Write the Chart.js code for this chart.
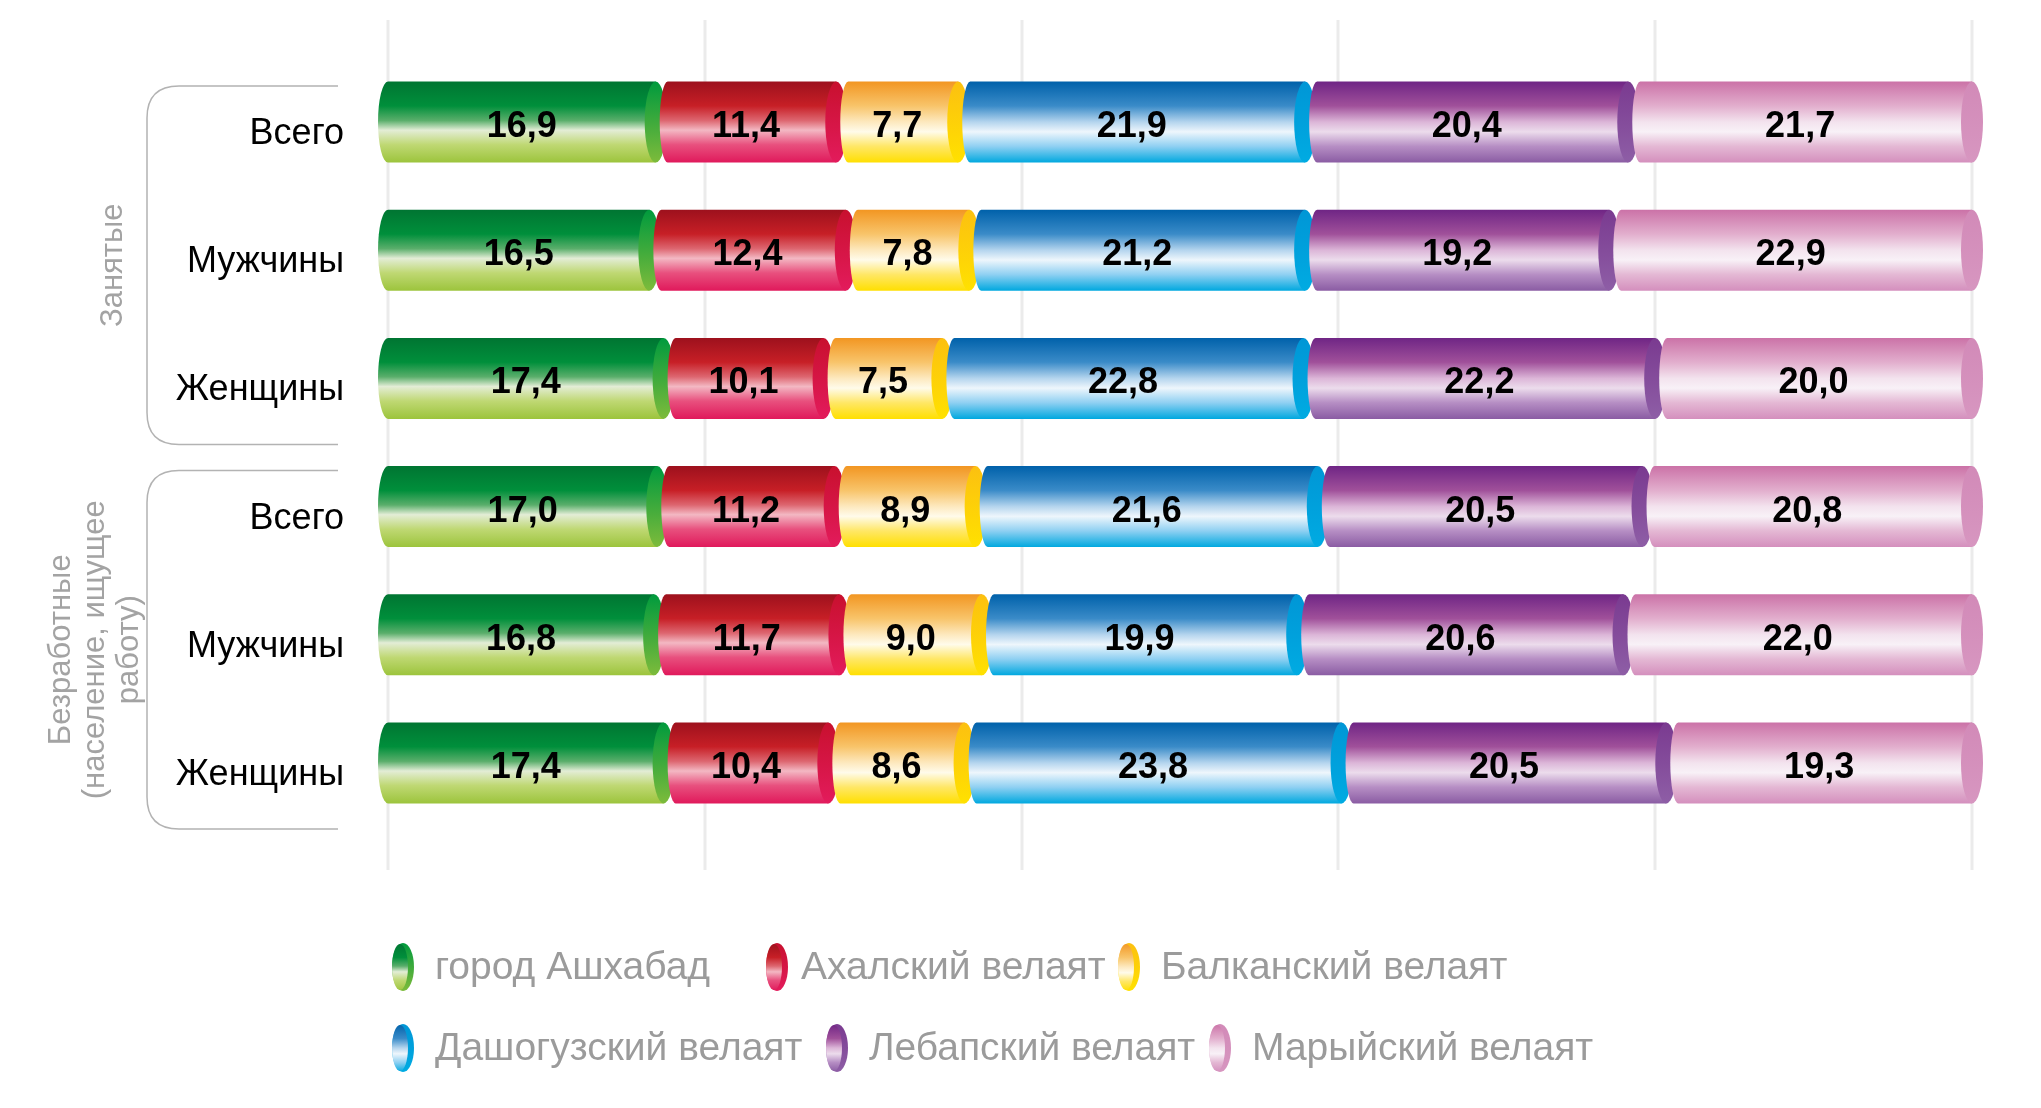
<!DOCTYPE html>
<html lang="ru">
<head>
<meta charset="utf-8">
<title>Распределение по велаятам</title>
<script src="https://cdn.jsdelivr.net/npm/chart.js@4.4.1/dist/chart.umd.min.js"></script>
<style>
  html, body { margin: 0; padding: 0; background: #fff; }
  canvas { display: block; }
</style>
</head>
<body>
<canvas id="chart" width="2041" height="1108"></canvas>
<script>
// Данные
const rowLabels = ["Всего", "Мужчины", "Женщины", "Всего", "Мужчины", "Женщины"];
const regionNames = ["город Ашхабад", "Ахалский велаят", "Балканский велаят",
  "Дашогузский велаят", "Лебапский велаят", "Марыйский велаят"];
const ashgabat = [16.9, 16.5, 17.4, 17.0, 16.8, 17.4];
const ahal = [11.4, 12.4, 10.1, 11.2, 11.7, 10.4];
const balkan = [7.7, 7.8, 7.5, 8.9, 9.0, 8.6];
const dashoguz = [21.9, 21.2, 22.8, 21.6, 19.9, 23.8];
const lebap = [20.4, 19.2, 22.2, 20.5, 20.6, 20.5];
const mary = [21.7, 22.9, 20.0, 20.8, 22.0, 19.3];
const xTicks = [0, 20, 40, 60, 80, 100];
const groupNames = [["Занятые"], ["Безработные", "(население, ищущее", "работу)"]];
const groupRows = [[0, 2], [3, 5]];

// Цвета (градиент тела цилиндра и торца)
const bodyStops = [
  [[0, "#007532"], [0.3, "#008f3b"], [0.48, "#5aae6b"], [0.6, "#e3edd6"], [0.78, "#bfd873"], [1, "#9cc43c"]],
  [[0, "#9d111d"], [0.3, "#c71f26"], [0.48, "#dd6670"], [0.6, "#f3b8c3"], [0.78, "#e8507e"], [1, "#e0195b"]],
  [[0, "#f29622"], [0.3, "#f8c46a"], [0.5, "#fde9bf"], [0.62, "#fffbea"], [0.8, "#ffe766"], [1, "#ffdf00"]],
  [[0, "#0061aa"], [0.3, "#3a8bc8"], [0.5, "#b5d5ee"], [0.62, "#eef6fc"], [0.8, "#8fd0f2"], [1, "#00a8df"]],
  [[0, "#6f2585"], [0.3, "#a0509a"], [0.5, "#dcb6d8"], [0.62, "#ecdcec"], [0.8, "#b68ec4"], [1, "#8a5ca3"]],
  [[0, "#cb72a7"], [0.3, "#e2aecd"], [0.5, "#f3e3ee"], [0.62, "#f8f1f7"], [0.8, "#e4b8d4"], [1, "#d48fbd"]],
];
const capColors = [
  ["#009a3d", "#7dbb3b"], ["#c8102e", "#e31b5c"], ["#fcc010", "#ffe100"],
  ["#0096d6", "#00abe2"], ["#7a3a90", "#8e5ea6"], ["#d28ab8", "#d796c0"],
];

const FONT = "'Liberation Sans', Arial, sans-serif";

function vGrad(ctx, top, bottom, stops) {
  const g = ctx.createLinearGradient(0, top, 0, bottom);
  stops.forEach(([p, c]) => g.addColorStop(p, c));
  return g;
}
function capGrad(ctx, top, bottom, c) {
  return vGrad(ctx, top, bottom, [[0, c[0]], [1, c[1]]]);
}

// Сетка
const gridPlugin = {
  id: "grid",
  beforeDatasetsDraw(chart) {
    const { ctx, scales } = chart;
    ctx.save();
    ctx.strokeStyle = "#ebebeb";
    ctx.lineWidth = 3;
    xTicks.forEach((t) => {
      const x = Math.round(scales.x.getPixelForValue(t));
      ctx.beginPath();
      ctx.moveTo(x, 20);
      ctx.lineTo(x, 870);
      ctx.stroke();
    });
    ctx.restore();
  },
};

// Цилиндры
const cylinderPlugin = {
  id: "cylinders",
  afterDatasetsDraw(chart) {
    const ctx = chart.ctx;
    const n = chart.data.labels.length;
    ctx.save();
    for (let i = 0; i < n; i++) {
      chart.data.datasets.forEach((ds, d) => {
        const bar = chart.getDatasetMeta(d).data[i];
        const a = bar.base, b = bar.x;
        const h = bar.height, top = bar.y - h / 2, bottom = bar.y + h / 2;
        const off = d === 0 ? 0 : 12;
        const rxL = d === 0 ? 10 : 8;
        // тело
        ctx.beginPath();
        ctx.moveTo(a + off, top);
        ctx.lineTo(b, top);
        ctx.lineTo(b, bottom);
        ctx.lineTo(a + off, bottom);
        ctx.ellipse(a + off, bar.y, rxL, h / 2, 0, Math.PI / 2, Math.PI * 1.5);
        ctx.closePath();
        ctx.fillStyle = vGrad(ctx, top, bottom, bodyStops[d]);
        ctx.fill();
        // торец
        ctx.beginPath();
        ctx.ellipse(b, bar.y, 11, h / 2, 0, 0, Math.PI * 2);
        ctx.fillStyle = capGrad(ctx, top, bottom, capColors[d]);
        ctx.fill();
      });
    }
    // подписи значений
    ctx.fillStyle = "#000";
    ctx.font = "bold 36px " + FONT;
    ctx.textAlign = "center";
    ctx.textBaseline = "middle";
    chart.data.datasets.forEach((ds, d) => {
      chart.getDatasetMeta(d).data.forEach((bar, i) => {
        const v = ds.data[i];
        ctx.fillText(v.toFixed(1).replace(".", ","), (bar.base + bar.x) / 2, bar.y + 5);
      });
    });
    ctx.restore();
  },
};

// Скобки групп, подписи групп и легенда
const decorPlugin = {
  id: "decor",
  afterDraw(chart) {
    const { ctx, scales } = chart;
    ctx.save();
    groupRows.forEach(([r0, r1], g) => {
      const y0 = scales.y.getPixelForValue(r0) - 36;
      const y1 = scales.y.getPixelForValue(r1) + 66;
      const xl = 147, xr = 338, r = 32;
      ctx.strokeStyle = "#b3b3b3";
      ctx.lineWidth = 1.5;
      ctx.beginPath();
      ctx.moveTo(xr, y0);
      ctx.lineTo(xl + r, y0);
      ctx.quadraticCurveTo(xl, y0, xl, y0 + r);
      ctx.lineTo(xl, y1 - r);
      ctx.quadraticCurveTo(xl, y1, xl + r, y1);
      ctx.lineTo(xr, y1);
      ctx.stroke();

      const lines = groupNames[g];
      const cy = (y0 + y1) / 2;
      const lh = 34;
      const cx = lines.length === 1 ? 113 : 95;
      ctx.fillStyle = "#a3a3a3";
      ctx.font = "31px " + FONT;
      ctx.textAlign = "center";
      ctx.textBaseline = "middle";
      lines.forEach((t, k) => {
        ctx.save();
        ctx.translate(cx + (k - (lines.length - 1) / 2) * lh, cy);
        ctx.rotate(-Math.PI / 2);
        ctx.fillText(t, 0, 0);
        ctx.restore();
      });
    });

    // легенда
    const legendPos = [[403, 967], [777, 967], [1129, 967], [403, 1048], [837, 1048], [1220, 1048]];
    ctx.font = "39px " + FONT;
    ctx.textAlign = "left";
    ctx.textBaseline = "middle";
    regionNames.forEach((name, d) => {
      const [mx, my] = legendPos[d];
      const t = my - 24, btm = my + 24;
      ctx.beginPath();
      ctx.ellipse(mx, my, 11, 24, 0, 0, Math.PI * 2);
      ctx.fillStyle = capGrad(ctx, t, btm, capColors[d]);
      ctx.fill();
      ctx.beginPath();
      ctx.ellipse(mx - 3, my, 8, 23, 0, 0, Math.PI * 2);
      ctx.fillStyle = vGrad(ctx, t, btm, bodyStops[d]);
      ctx.fill();
      ctx.fillStyle = "#9b9b9b";
      ctx.fillText(name, mx + (d === 1 ? 24 : 32), my + 1);
    });
    ctx.restore();
  },
};

const seriesValues = [ashgabat, ahal, balkan, dashoguz, lebap, mary];

new Chart(document.getElementById("chart"), {
  type: "bar",
  data: {
    labels: rowLabels,
    datasets: seriesValues.map((vals, d) => ({
      label: regionNames[d],
      data: vals,
      backgroundColor: "rgba(0,0,0,0)",
      borderWidth: 0,
      categoryPercentage: 1,
      barPercentage: 0.632,
    })),
  },
  options: {
    indexAxis: "y",
    responsive: false,
    animation: false,
    layout: { padding: { top: 58, bottom: 281, left: 0, right: 69 } },
    plugins: {
      legend: { display: false },
      tooltip: { enabled: false },
    },
    scales: {
      x: {
        stacked: true,
        min: 0,
        max: 100,
        display: false,
      },
      y: {
        stacked: true,
        grid: { display: false },
        border: { display: false },
        ticks: {
          color: "#000",
          font: { family: FONT, size: 36 },
          padding: 36,
          labelOffset: 12,
        },
        afterFit(scale) {
          scale.width = 388;
        },
      },
    },
  },
  plugins: [gridPlugin, cylinderPlugin, decorPlugin],
});
</script>
</body>
</html>
